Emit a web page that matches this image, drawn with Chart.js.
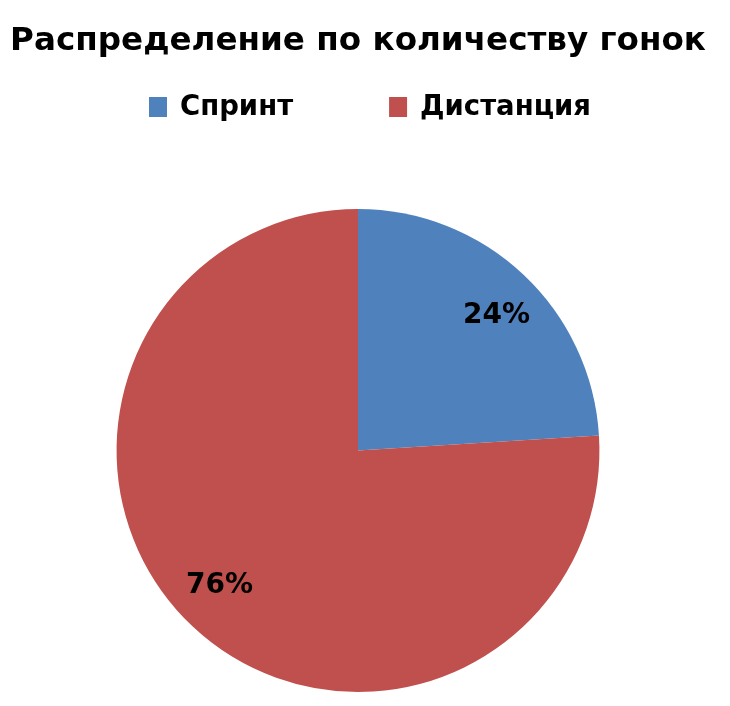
<!DOCTYPE html>
<html>
<head>
<meta charset="utf-8">
<script src="https://cdn.jsdelivr.net/npm/chart.js@4.4.1/dist/chart.umd.min.js"></script>
<style>
  html, body { margin: 0; padding: 0; background: #fff; }
  #wrap { width: 730px; height: 706px; }
</style>
</head>
<body>
<div id="wrap"><canvas id="myChart" width="730" height="706"></canvas></div>
<script>
var chartTitle = 'Распределение по количеству гонок';
var labels = ['Спринт', 'Дистанция'];
var values = [24, 76];
var colors = ['#4F81BD', '#C0504D'];

var FONT = '"DejaVu Sans", Verdana, sans-serif';

// legend drawn by hand so the gap between the two items can be wide
var rowLegend = {
    id: 'rowLegend',
    afterDraw(chart) {
        const ctx = chart.ctx;
        const ds = chart.data.datasets[0];
        let x = 149;
        const y = 107;
        ctx.save();
        ctx.font = 'bold 27.5px ' + FONT;
        ctx.textBaseline = 'middle';
        ctx.textAlign = 'left';
        chart.data.labels.forEach((lab, i) => {
            ctx.fillStyle = ds.backgroundColor[i];
            ctx.fillRect(x, y - 10, 18, 20);
            ctx.fillStyle = '#000';
            ctx.fillText(lab, x + 31, y + 1);
            x += 31 + ctx.measureText(lab).width + 96;
        });
        ctx.restore();
    }
};

// percent labels inside the slices
var sliceLabels = {
    id: 'sliceLabels',
    afterDatasetsDraw(chart) {
        const ctx = chart.ctx;
        const meta = chart.getDatasetMeta(0);
        const data = chart.data.datasets[0].data;
        const total = data.reduce((a, b) => a + b, 0);
        ctx.save();
        ctx.font = 'bold 28px ' + FONT;
        ctx.fillStyle = '#000';
        ctx.textAlign = 'center';
        ctx.textBaseline = 'middle';
        meta.data.forEach((arc, i) => {
            const p = arc.getProps(['x', 'y', 'startAngle', 'endAngle', 'outerRadius'], true);
            const mid = (p.startAngle + p.endAngle) / 2 + 0.045;
            const r = p.outerRadius * 0.8;
            ctx.fillText(Math.round(data[i] / total * 100) + '%', p.x + Math.cos(mid) * r, p.y + Math.sin(mid) * r);
        });
        ctx.restore();
    }
};

var ctx = document.getElementById('myChart');
var chart = new Chart(ctx, {
    type: 'pie',
    data: {
        labels: labels,
        datasets: [{
            data: values,
            backgroundColor: colors,
            borderWidth: 0
        }]
    },
    options: {
        responsive: false,
        animation: false,
        layout: { padding: { left: 0, right: 14, bottom: 14, top: 0 } },
        plugins: {
            legend: { display: false },
            tooltip: { enabled: false },
            title: {
                display: true,
                text: chartTitle,
                color: '#000',
                font: { family: FONT, size: 32.6, weight: 'bold', lineHeight: 1.2 },
                padding: { top: 22, bottom: 148 }
            }
        }
    },
    plugins: [rowLegend, sliceLabels]
});
</script>
</body>
</html>
